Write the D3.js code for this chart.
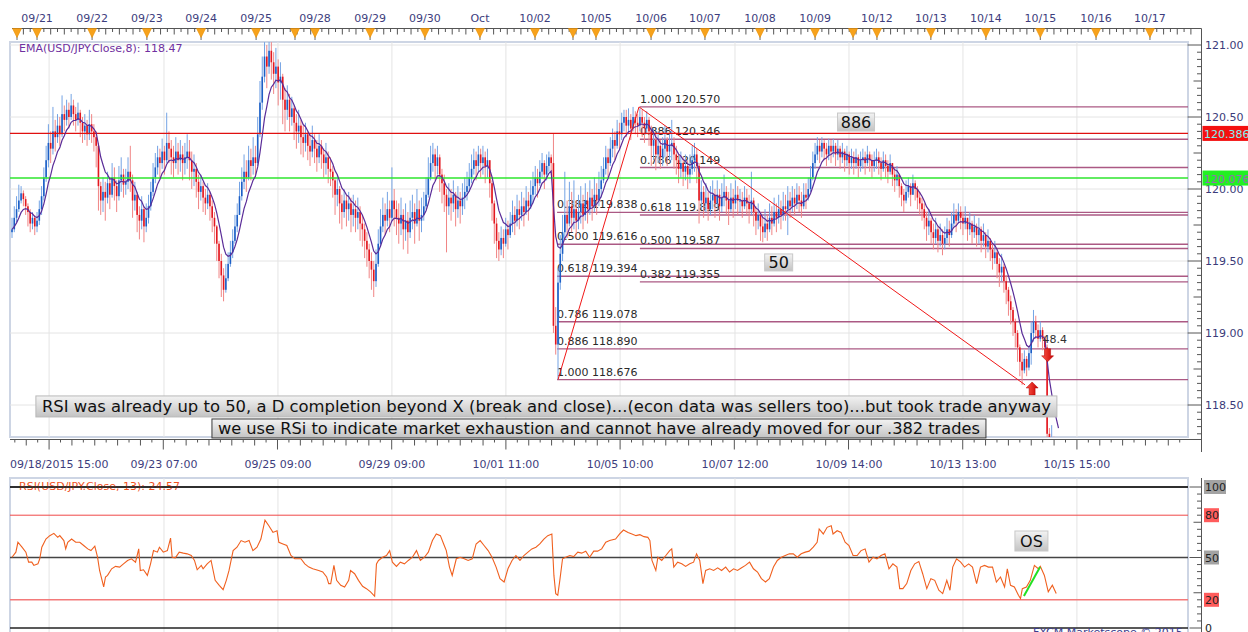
<!DOCTYPE html>
<html>
<head>
<meta charset="utf-8">
<script src="https://cdn.jsdelivr.net/npm/d3@7"></script>
<style>
  html, body { margin: 0; padding: 0; background: #fff; }
  svg { display: block; font-family: "DejaVu Sans", Verdana, sans-serif; }
</style>
</head>
<body>
<svg id="chart" width="1248" height="632"></svg>
<script>
// ---- data (hourly USD/JPY bars) ----
const firstOpen = 119.70;
const closes = [
  119.72,119.80,119.86,119.92,119.97,119.93,119.88,119.84,119.76,119.80,
  119.74,119.78,119.86,119.95,120.08,120.20,120.32,120.28,120.40,120.36,
  120.44,120.38,120.52,120.48,120.55,120.50,120.58,120.52,120.48,120.53,
  120.46,120.40,120.44,120.38,120.45,120.40,120.36,120.30,120.02,119.92,
  119.98,119.94,120.04,119.96,120.08,120.02,119.95,120.06,120.10,120.03,
  120.05,120.12,120.06,119.92,119.96,119.82,119.78,119.86,119.74,119.80,
  119.88,119.98,120.08,120.15,120.22,120.18,120.26,120.20,120.32,120.28,
  120.22,120.18,120.26,120.20,120.24,120.18,120.22,120.26,120.20,120.12,
  120.14,120.05,119.98,120.02,119.94,119.90,119.96,119.88,119.80,119.74,
  119.62,119.50,119.40,119.30,119.38,119.48,119.56,119.64,119.74,119.82,
  119.95,120.05,120.12,120.08,120.20,120.16,120.22,120.18,120.38,120.60,
  120.78,120.92,120.85,120.96,120.88,120.80,120.85,120.74,120.78,120.62,
  120.55,120.62,120.50,120.56,120.46,120.40,120.44,120.36,120.32,120.38,
  120.30,120.26,120.34,120.28,120.22,120.30,120.24,120.18,120.22,120.14,
  120.12,120.06,119.96,120.00,119.90,119.84,119.92,119.86,119.90,119.82,
  119.86,119.80,119.84,119.76,119.72,119.64,119.58,119.50,119.44,119.36,
  119.48,119.62,119.74,119.82,119.78,119.86,119.80,119.92,119.86,119.80,
  119.76,119.82,119.72,119.78,119.70,119.80,119.84,119.76,119.86,119.78,
  119.82,119.88,119.96,120.08,120.18,120.24,120.16,120.22,120.10,120.04,
  119.96,119.88,119.94,119.90,119.96,119.86,119.92,119.88,119.94,119.98,
  120.02,120.08,120.14,120.20,120.16,120.24,120.18,120.22,120.16,120.20,
  120.04,119.90,119.76,119.64,119.58,119.66,119.62,119.72,119.68,119.76,
  119.82,119.78,119.86,119.82,119.88,119.84,119.92,119.88,119.96,120.02,
  120.08,120.04,120.12,120.18,120.10,120.16,120.22,120.18,119.05,118.92,
  119.35,119.55,119.70,119.82,119.76,119.88,119.80,119.86,119.78,119.84,
  119.90,119.82,119.92,119.86,119.94,119.88,119.96,119.92,120.00,120.06,
  120.14,120.22,120.18,120.28,120.34,120.30,120.40,120.38,120.46,120.50,
  120.44,120.48,120.42,120.50,120.46,120.44,120.50,120.46,120.42,120.48,
  120.40,120.30,120.34,120.24,120.30,120.22,120.28,120.34,120.26,120.30,
  120.32,120.24,120.20,120.14,120.18,120.12,120.16,120.10,120.14,120.20,
  120.24,120.16,119.92,119.98,119.90,119.94,119.86,119.92,119.96,119.90,
  119.96,119.88,119.94,119.98,119.92,119.86,119.94,119.90,119.96,119.92,
  119.92,119.88,119.94,119.90,119.86,119.92,119.84,119.78,119.82,119.74,
  119.70,119.76,119.72,119.80,119.76,119.84,119.80,119.86,119.82,119.88,
  119.86,119.92,119.88,119.94,119.90,119.96,119.92,119.88,119.96,119.94,
  120.00,120.08,120.18,120.24,120.30,120.26,120.32,120.28,120.24,120.30,
  120.26,120.30,120.24,120.28,120.22,120.26,120.20,120.24,120.18,120.22,
  120.18,120.22,120.16,120.20,120.22,120.18,120.24,120.20,120.16,120.20,
  120.22,120.18,120.14,120.20,120.16,120.12,120.18,120.10,120.06,120.10,
  120.02,119.96,119.92,119.98,120.02,119.96,120.04,120.00,119.94,119.90,
  119.86,119.80,119.74,119.78,119.70,119.66,119.72,119.64,119.68,119.62,
  119.66,119.72,119.68,119.76,119.82,119.78,119.84,119.80,119.76,119.80,
  119.72,119.76,119.70,119.74,119.68,119.72,119.64,119.68,119.60,119.64,
  119.58,119.52,119.56,119.48,119.42,119.46,119.36,119.30,119.22,119.16,
  119.08,119.00,118.90,118.80,118.74,118.82,118.76,118.86,119.00,119.08,
  119.02,118.96,119.02,118.96,118.90,118.30,118.20,118.24,118.12,118.16,118.10
];
const highs = [
  119.80,119.88,119.95,120.03,120.02,119.99,119.95,119.90,119.86,119.84,
  119.82,119.84,119.92,120.02,120.15,120.30,120.45,120.40,120.57,120.48,
  120.52,120.50,120.65,120.58,120.62,120.60,120.66,120.62,120.57,120.60,
  120.55,120.50,120.52,120.48,120.55,120.52,120.45,120.40,120.32,120.05,
  120.08,120.05,120.12,120.08,120.18,120.15,120.06,120.16,120.22,120.14,
  120.14,120.22,120.30,120.10,120.05,119.98,119.88,119.95,119.88,119.90,
  119.96,120.05,120.18,120.25,120.30,120.28,120.35,120.30,120.53,120.40,
  120.34,120.30,120.36,120.32,120.34,120.30,120.32,120.38,120.34,120.26,
  120.24,120.18,120.10,120.10,120.05,120.00,120.04,119.98,119.92,119.84,
  119.75,119.64,119.55,119.45,119.48,119.56,119.64,119.72,119.82,119.90,
  120.05,120.15,120.24,120.20,120.30,120.28,120.36,120.30,120.50,120.75,
  120.92,121.02,121.00,121.05,121.02,120.95,120.98,120.90,120.88,120.80,
  120.70,120.72,120.66,120.64,120.58,120.52,120.55,120.48,120.44,120.46,
  120.40,120.38,120.44,120.38,120.34,120.38,120.34,120.28,120.32,120.26,
  120.22,120.16,120.08,120.10,120.02,119.96,120.00,119.96,119.98,119.94,
  119.96,119.92,119.94,119.88,119.82,119.76,119.70,119.62,119.56,119.50,
  119.58,119.72,119.86,119.94,119.90,119.98,119.92,120.15,120.00,119.92,
  119.90,119.94,119.86,119.90,119.84,119.92,119.96,119.90,120.00,119.92,
  119.94,119.98,120.08,120.22,120.30,120.32,120.28,120.30,120.24,120.14,
  120.10,120.00,120.04,120.00,120.06,119.98,120.02,119.98,120.04,120.08,
  120.12,120.18,120.24,120.28,120.26,120.30,120.28,120.30,120.26,120.28,
  120.18,120.06,119.92,119.80,119.70,119.74,119.72,119.80,119.78,119.84,
  119.92,119.88,119.96,119.92,119.98,119.94,120.02,119.98,120.06,120.12,
  120.16,120.14,120.20,120.25,120.20,120.24,120.26,120.24,120.386,119.18,
  119.45,119.68,119.82,120.12,119.92,120.05,119.98,120.06,119.92,119.96,
  120.02,119.96,120.04,119.98,120.06,120.00,120.08,120.04,120.12,120.16,
  120.22,120.30,120.28,120.36,120.42,120.40,120.48,120.46,120.53,120.55,
  120.55,120.56,120.52,120.57,120.54,120.52,120.56,120.55,120.50,120.54,
  120.50,120.44,120.42,120.38,120.40,120.34,120.36,120.44,120.36,120.38,
  120.48,120.36,120.30,120.24,120.26,120.22,120.24,120.20,120.24,120.30,
  120.32,120.28,120.18,120.06,120.02,120.04,119.98,120.02,120.06,120.00,
  120.06,120.00,120.04,120.10,120.02,119.98,120.04,120.00,120.06,120.02,
  120.00,119.98,120.02,120.00,119.96,120.12,119.94,119.88,119.90,119.84,
  119.80,119.86,119.82,119.90,119.88,119.94,119.90,119.96,119.92,119.98,
  119.96,120.02,119.98,120.02,120.00,120.04,120.02,119.98,120.04,120.04,
  120.08,120.16,120.26,120.32,120.36,120.34,120.36,120.34,120.32,120.35,
  120.34,120.35,120.32,120.34,120.30,120.32,120.28,120.30,120.26,120.28,
  120.26,120.28,120.24,120.26,120.28,120.26,120.30,120.26,120.24,120.26,
  120.28,120.26,120.22,120.26,120.24,120.20,120.24,120.18,120.14,120.16,
  120.10,120.04,120.00,120.06,120.08,120.04,120.10,120.06,120.02,119.98,
  119.94,119.90,119.84,119.86,119.80,119.76,119.80,119.74,119.76,119.72,
  119.74,119.80,119.78,119.84,119.90,119.86,119.90,119.88,119.84,119.88,
  119.80,119.84,119.78,119.82,119.76,119.80,119.74,119.76,119.70,119.72,
  119.66,119.62,119.64,119.58,119.52,119.55,119.48,119.40,119.32,119.26,
  119.18,119.10,119.02,118.92,118.86,118.88,118.84,118.90,119.08,119.16,
  119.12,119.06,119.08,119.04,118.98,118.92,118.34,118.36,118.28,118.26,118.22
];
const lows = [
  119.66,119.70,119.77,119.84,119.90,119.88,119.82,119.74,119.70,119.72,
  119.68,119.70,119.75,119.82,119.92,120.05,120.15,120.18,120.24,120.26,
  120.32,120.30,120.36,120.40,120.44,120.42,120.48,120.44,120.40,120.44,
  120.36,120.32,120.34,120.30,120.34,120.32,120.26,120.15,119.85,119.82,
  119.84,119.78,119.90,119.86,119.94,119.92,119.84,119.92,119.98,119.94,
  119.96,120.00,119.98,119.80,119.85,119.70,119.65,119.72,119.63,119.70,
  119.76,119.85,119.95,120.04,120.10,120.08,120.14,120.10,120.18,120.18,
  120.10,120.08,120.14,120.10,120.12,120.06,120.10,120.14,120.06,120.00,
  120.02,119.94,119.86,119.92,119.84,119.82,119.86,119.78,119.70,119.62,
  119.50,119.38,119.25,119.22,119.28,119.36,119.46,119.52,119.62,119.70,
  119.82,119.92,120.00,119.98,120.06,120.06,120.10,120.08,120.16,120.36,
  120.55,120.74,120.70,120.80,120.76,120.66,120.70,120.58,120.62,120.45,
  120.40,120.48,120.40,120.44,120.34,120.28,120.32,120.24,120.22,120.26,
  120.20,120.16,120.22,120.18,120.12,120.18,120.14,120.08,120.10,120.04,
  120.02,119.94,119.82,119.88,119.76,119.72,119.80,119.74,119.78,119.70,
  119.74,119.70,119.72,119.64,119.60,119.52,119.46,119.38,119.30,119.25,
  119.32,119.46,119.60,119.70,119.68,119.74,119.70,119.78,119.74,119.68,
  119.62,119.68,119.58,119.64,119.55,119.66,119.72,119.62,119.74,119.64,
  119.70,119.78,119.86,119.94,120.06,120.12,120.06,120.10,119.98,119.90,
  119.84,119.56,119.82,119.78,119.84,119.74,119.80,119.76,119.82,119.86,
  119.92,119.98,120.04,120.10,120.06,120.12,120.08,120.10,120.04,120.08,
  119.94,119.78,119.62,119.52,119.50,119.54,119.52,119.60,119.58,119.66,
  119.70,119.68,119.74,119.72,119.78,119.74,119.82,119.78,119.86,119.90,
  119.96,119.94,120.02,120.08,120.00,120.06,120.12,120.10,119.00,118.85,
  118.676,119.30,119.50,119.66,119.66,119.74,119.70,119.72,119.66,119.72,
  119.76,119.72,119.78,119.76,119.82,119.78,119.84,119.82,119.88,119.94,
  120.04,120.10,120.08,120.16,120.22,120.20,120.28,120.28,120.34,120.40,
  120.36,120.38,120.34,120.40,120.38,120.36,120.40,120.36,120.32,120.38,
  120.30,120.16,120.20,120.13,120.18,120.14,120.16,120.22,120.16,120.20,
  120.20,120.14,120.10,120.04,120.08,120.02,120.06,120.00,120.04,120.10,
  120.12,120.04,119.76,119.86,119.80,119.84,119.78,119.82,119.86,119.80,
  119.86,119.78,119.84,119.88,119.82,119.75,119.84,119.80,119.86,119.82,
  119.84,119.80,119.86,119.82,119.76,119.82,119.74,119.68,119.72,119.64,
  119.63,119.66,119.64,119.70,119.68,119.74,119.70,119.76,119.72,119.78,
  119.78,119.68,119.80,119.84,119.82,119.86,119.84,119.80,119.86,119.86,
  119.92,119.98,120.06,120.14,120.20,120.18,120.22,120.20,120.16,120.20,
  120.18,120.22,120.16,120.20,120.14,120.18,120.12,120.16,120.10,120.14,
  120.10,120.14,120.08,120.12,120.14,120.10,120.16,120.12,120.08,120.12,
  120.14,120.10,120.06,120.12,120.08,120.04,120.10,120.02,119.98,120.02,
  119.94,119.88,119.84,119.90,119.94,119.88,119.96,119.92,119.86,119.82,
  119.78,119.72,119.64,119.68,119.62,119.58,119.62,119.56,119.60,119.54,
  119.58,119.62,119.60,119.66,119.74,119.70,119.76,119.72,119.68,119.72,
  119.64,119.68,119.62,119.66,119.60,119.62,119.56,119.60,119.52,119.56,
  119.50,119.44,119.48,119.38,119.32,119.36,119.28,119.20,119.12,119.06,
  118.98,118.90,118.80,118.70,118.64,118.72,118.70,118.74,118.78,118.94,
  118.96,118.90,118.94,118.88,118.84,118.24,118.10,118.14,118.05,118.08,118.02
];

// RSI(13) readings: [bar index, value]
const rsiReadings = [
  [0,50.2],[1.7,53.8],[2.6,60.8],[4.4,57.3],[6.1,53.8],[7.3,46.7],[8.7,46.7],[9.6,44.4],[11.4,45.5],[12.2,49.1],
  [13.1,57.3],[14.9,63.1],[16.6,65.5],[18.4,67.1],[20.1,64.3],[21,65.5],[22.8,62.0],[23.6,56.1],[24.5,60.8],[26.2,63.1],
  [28,60.8],[29.8,60.8],[31.5,58.5],[33.3,56.1],[34.7,54.9],[36.4,58.0],[37.6,50.2],[38.5,40.8],[39.4,35.0],[40.3,29.1],
  [41.1,36.2],[42,37.3],[43.8,42.0],[45.5,43.7],[47.3,43.2],[49,45.5],[50.8,47.9],[52.5,49.1],[54.3,46.7],[55.7,56.1],
  [56.4,40.8],[57.8,41.3],[59.5,37.3],[60.9,45.5],[62.2,54.9],[63.9,53.8],[64.8,57.3],[66.5,53.8],[68.3,54.9],[69.7,63.8],
  [70.4,50.2],[71.8,49.8],[73.5,53.8],[75.3,53.1],[77,52.6],[78.8,51.4],[80.2,47.9],[81.4,41.3],[83.2,44.4],[84,42.0],
  [85.8,45.5],[87.5,47.9],[89.3,33.8],[91.1,30.3],[92.8,27.2],[94.2,33.8],[95.4,40.8],[96.3,47.9],[97.2,54.9],[98.9,57.3],
  [100.7,62.0],[102.4,60.8],[104.2,62.0],[105.9,54.9],[107.7,57.3],[109.4,63.1],[111.2,76.5],[112.9,72.5],[114.7,67.8],[116.5,69.0],
  [117.3,60.8],[119.1,59.6],[120.8,58.5],[122.6,51.4],[124.3,49.1],[127,49.1],[128.7,45.5],[130.5,43.2],[132.2,42.0],[134.8,40.8],
  [136.6,39.7],[138.3,36.2],[139.2,31.5],[140.1,31.5],[141.5,44.4],[142.7,33.8],[144.5,30.3],[146.2,29.1],[148,33.8],[148.8,40.8],
  [150.6,38.5],[152.3,33.8],[154.1,29.6],[155.8,27.9],[157.6,25.6],[159.4,22.5],[160.2,45.5],[161.1,47.9],[162.9,50.2],[164.6,51.4],
  [166,54.9],[167.2,46.7],[169,43.7],[170.7,46.7],[172.5,45.5],[174.2,47.9],[176,50.2],[177.8,54.9],[179.5,47.9],[181.3,50.2],
  [183,53.8],[184.8,62.0],[186.5,66.7],[188.3,65.5],[190,58.5],[190.9,54.9],[192.3,43.2],[193.5,37.3],[195.3,49.1],[197,50.2],
  [198.8,49.1],[200.5,47.9],[202.3,49.1],[204,59.6],[205.8,62.0],[207.5,58.5],[209.3,54.9],[211,50.2],[212.8,43.2],[214.5,35.0],
  [216.3,32.6],[218,42.0],[219.8,47.9],[221.5,51.4],[223.3,47.9],[225,51.4],[226.8,53.8],[228.5,56.1],[230.3,57.3],[232,59.6],
  [233.8,63.1],[235.5,65.5],[237.3,66.7],[238.2,37.3],[239,24.4],[239.9,23.2],[240.8,33.8],[242,49.1],[243.4,50.2],[245.2,51.4],
  [246.9,50.7],[248.7,53.8],[250.4,53.1],[252.2,54.5],[253.9,50.2],[255.7,54.5],[257.4,54.5],[259.2,56.1],[261,60.8],[262.7,62.0],
  [265.3,63.1],[267.1,66.7],[268.8,69.5],[270.8,67.8],[272.5,66.7],[274.3,65.5],[276,66.2],[277.8,64.8],[279.5,64.3],[280.4,62.0],
  [281.3,47.9],[283,40.8],[283.9,50.2],[285.6,47.9],[287.4,51.4],[289.1,54.9],[290,56.1],[290.9,43.2],[292.6,46.7],[294.4,45.5],
  [296.1,43.7],[297.9,45.5],[299.6,46.7],[300.9,52.6],[302.3,47.9],[303.7,31.5],[304.9,40.8],[306.7,42.0],[308.4,40.8],[310.2,42.7],
  [311.9,40.8],[313.7,43.2],[315.4,39.7],[317.2,42.0],[318.9,40.8],[320.7,42.7],[322.4,44.4],[324.2,46.7],[325.9,42.0],[327.7,39.7],
  [329.4,35.0],[331.2,32.6],[332.9,35.0],[334.7,43.2],[336.4,47.9],[338.2,50.2],[339.9,51.4],[341.7,52.6],[343.4,52.6],[345.2,50.2],
  [346.9,52.6],[348.7,53.8],[350.4,54.5],[352.2,57.3],[353.9,60.8],[354.8,70.2],[356.6,66.7],[358.3,71.4],[360.1,72.5],[360.9,66.7],
  [362.7,69.0],[364.4,67.8],[366.2,60.8],[367.9,58.5],[369.7,51.4],[371.5,51.4],[373.2,54.9],[375,56.1],[376.7,46.7],[378.5,50.2],
  [380.2,49.1],[382,51.4],[383.7,52.6],[385.5,42.0],[387.2,45.5],[389,43.2],[390.2,27.9],[391.6,27.9],[393.3,31.5],[395.1,40.8],
  [396.8,45.5],[398.6,47.2],[400.3,38.5],[402.1,27.9],[403.9,35.0],[405.6,33.8],[407.4,26.8],[409.1,24.4],[410.9,33.8],[412.3,26.8],
  [413.5,43.2],[415.2,49.1],[417,46.7],[418.7,43.2],[420.5,45.5],[422.2,43.2],[424,31.5],[425.7,43.2],[427.5,44.4],[429.2,43.2],
  [431,43.2],[432.7,32.6],[434.5,36.2],[436.3,29.1],[437.5,42.0],[438.9,30.3],[440.6,29.1],[442.4,23.2],[443.3,20.9],[444.1,27.9],
  [445.9,29.1],[447.6,33.8],[449.4,44.4],[451.1,42.0],[452,43.7],[453.8,37.3],[455.5,25.6],[457.3,30.3],[459,24.4]
];
const rsiTrendBars = [444.8, 451.9];
const rsiTrendValues = [22.7, 43.3];
const rsiLevels = [100, 80, 50, 20, 0];

// time axes
const dayLabels = ['09/21','09/22','09/23','09/24','09/25','09/28','09/29','09/30','Oct','10/02',
  '10/05','10/06','10/07','10/08','10/09','10/12','10/13','10/14','10/15','10/16','10/17'];
const dayBars = [11, 35.2, 59.3, 83.1, 107.3, 133.2, 157.4, 181.5, 205.7, 229.9,
  256.7, 280.9, 304.6, 328.8, 353, 380.2, 403.9, 428.1, 452, 476.5, 500.2];
const weekOpenBars = [2.2, 124.4, 246.6, 369.7];
const gridBars = [16.3, 66.8, 116.9, 167, 217.1, 267.3, 317.8, 367.9, 418, 468.1];
const firstTimeLabel = '09/18/2015 15:00';
const timeLabels = ['', '09/23 07:00','09/25 09:00','09/29 09:00','10/01 11:00','10/05 10:00',
  '10/07 12:00','10/09 14:00','10/13 13:00','10/15 15:00'];

// levels and drawings
const priceTicks = [118.5, 119, 119.5, 120, 120.5, 121];
const redLevel = 120.386, greenLevel = 120.076;
const fibARatios = ['0.382','0.500','0.618','0.786','0.886','1.000'];
const fibAPrices = [119.838, 119.616, 119.394, 119.078, 118.890, 118.676];
const fibAStart = 239.6;
const fibBRatios = ['1.000','0.886','0.786','0.618','0.500','0.382'];
const fibBPrices = [120.570, 120.346, 120.149, 119.819, 119.587, 119.355];
const fibBStart = 276;
const patternBars = [240, 275.6, 445.3];
const patternPrices = [118.676, 120.570, 118.64];
const emaPeriod = 8;

const smallNotes = [
  { text: '886', bar: 371, price: 120.465, w: 37, h: 18 },
  { text: '50', bar: 337, price: 119.49, w: 28, h: 17 }
];
const longNotes = [
  { text: 'RSI was already up to 50, a D completion beyond X (break and close)...(econ data was sellers too)...but took trade anyway',
    bar: 234.9, price: 118.49, w: 1021, h: 21, stroke: '#b8b8b8' },
  { text: 'we use RSi to indicate market exhaustion and cannot have already moved for our .382 trades',
    bar: 258, price: 118.337, w: 774, h: 19, stroke: '#3a3a3a' }
];
const rsiNote = { text: 'OS', bar: 448.1, rsi: 61.7, w: 33, h: 20 };

// ---- layout ----
const plot = { left: 10, right: 1188, top: 42, bottom: 437 };
const rsiBox = { top: 478, bottom: 640 };
const axisX = 1201.5;

const x = d3.scaleLinear().domain([0, 517]).range([12, 12 + 517 * 2.275]);
const y = d3.scaleLinear().domain([118.5, 121]).range([405, 45]);
const yR = d3.scaleLinear().domain([0, 100]).range([628, 487]);

const svg = d3.select('#chart');
const defs = svg.append('defs');

defs.append('clipPath').attr('id', 'plotClip').append('rect')
  .attr('x', plot.left).attr('y', plot.top)
  .attr('width', plot.right - plot.left).attr('height', plot.bottom - plot.top);
defs.append('clipPath').attr('id', 'rsiClip').append('rect')
  .attr('x', plot.left).attr('y', rsiBox.top)
  .attr('width', plot.right - plot.left).attr('height', rsiBox.bottom - rsiBox.top);

const boxGrad = defs.append('linearGradient').attr('id', 'boxGrad')
  .attr('x1', 0).attr('y1', 0).attr('x2', 0).attr('y2', 1);
boxGrad.append('stop').attr('offset', '0%').attr('stop-color', '#f3f3f3');
boxGrad.append('stop').attr('offset', '100%').attr('stop-color', '#c3c3c3');

const arrowGrad = defs.append('linearGradient').attr('id', 'arrowGrad')
  .attr('x1', 0).attr('y1', 0).attr('x2', 1).attr('y2', 0);
arrowGrad.append('stop').attr('offset', '0%').attr('stop-color', '#ff5a4a');
arrowGrad.append('stop').attr('offset', '100%').attr('stop-color', '#c80000');

// ---- top date axis ----
const topY = 28.5;
svg.append('line').attr('x1', 12).attr('x2', axisX).attr('y1', topY).attr('y2', topY)
  .attr('stroke', '#555');
svg.append('line').attr('x1', axisX).attr('x2', axisX).attr('y1', topY).attr('y2', 40)
  .attr('stroke', '#555');

const topTicks = [];
for (let k = 1; dayBars[0] - 3 * k >= 0; k++) topTicks.push({ b: dayBars[0] - 3 * k, k });
dayBars.forEach((d, j) => {
  const next = j < dayBars.length - 1 ? dayBars[j + 1] : 520;
  for (let k = 1; d + 3 * k < next - 1.5; k++) topTicks.push({ b: d + 3 * k, k });
});
svg.append('g').selectAll('line').data(topTicks.filter(t => x(t.b) < axisX - 1)).join('line')
  .attr('x1', d => x(d.b)).attr('x2', d => x(d.b))
  .attr('y1', topY).attr('y2', d => topY + (d.k % 2 ? 3.5 : 6))
  .attr('stroke', '#555').attr('stroke-width', 1);

const triBars = dayBars.concat(weekOpenBars);
const tri = svg.append('g');
tri.selectAll('line').data(triBars).join('line')
  .attr('x1', d => x(d)).attr('x2', d => x(d)).attr('y1', topY).attr('y2', 40)
  .attr('stroke', '#666');
tri.selectAll('path').data(triBars).join('path')
  .attr('d', d => `M${x(d) - 4.5},${topY} L${x(d) + 4.5},${topY} L${x(d)},${topY + 9} Z`)
  .attr('fill', '#f7a21b').attr('stroke', '#e98f00').attr('stroke-width', 0.6);

svg.append('g').selectAll('text').data(dayLabels).join('text')
  .attr('x', (d, i) => x(dayBars[i])).attr('y', 22)
  .attr('text-anchor', 'middle').attr('font-size', 11).attr('fill', '#3d3d7d')
  .text(d => d);

// ---- main plot frame & grid ----
svg.append('rect').attr('x', plot.left).attr('y', plot.top)
  .attr('width', plot.right - plot.left).attr('height', plot.bottom - plot.top)
  .attr('fill', '#fff').attr('stroke', '#cdd5e4').attr('stroke-width', 2);

const grid = svg.append('g');
grid.selectAll('line.v').data(gridBars).join('line').attr('class', 'v')
  .attr('x1', d => x(d)).attr('x2', d => x(d)).attr('y1', plot.top).attr('y2', plot.bottom)
  .attr('stroke', '#e4e4e4');
grid.selectAll('line.h').data(priceTicks).join('line').attr('class', 'h')
  .attr('x1', plot.left).attr('x2', plot.right).attr('y1', d => y(d)).attr('y2', d => y(d))
  .attr('stroke', '#e4e4e4');

const inner = svg.append('g').attr('clip-path', 'url(#plotClip)');

// fib levels
function fibSet(prices, ratios, start) {
  const g = inner.append('g');
  g.selectAll('line').data(prices).join('line')
    .attr('x1', x(start)).attr('x2', plot.right)
    .attr('y1', d => y(d)).attr('y2', d => y(d))
    .attr('stroke', '#a24777').attr('stroke-width', 1.4).attr('stroke-opacity', 0.9);
  g.selectAll('text').data(prices).join('text')
    .attr('x', x(start)).attr('y', d => y(d) - 4)
    .attr('font-size', 11).attr('fill', '#2a2a2a')
    .text((d, i) => `${ratios[i]} ${d.toFixed(3)}`);
}
fibSet(fibAPrices, fibARatios, fibAStart);
fibSet(fibBPrices, fibBRatios, fibBStart);

// candles
const bars = closes.map((c, i) => {
  const o = i ? closes[i - 1] : firstOpen;
  return { i, o, c, h: Math.max(highs[i], o, c), l: Math.min(lows[i], o, c), up: c >= o };
});
const cg = inner.append('g');
cg.selectAll('line').data(bars).join('line')
  .attr('x1', d => x(d.i)).attr('x2', d => x(d.i))
  .attr('y1', d => y(d.h)).attr('y2', d => y(d.l))
  .attr('stroke', d => d.up ? '#74a3e4' : '#f08585').attr('stroke-width', 1);
cg.selectAll('rect').data(bars).join('rect')
  .attr('x', d => x(d.i) - 0.8).attr('width', 1.6)
  .attr('y', d => y(Math.max(d.o, d.c)))
  .attr('height', d => Math.max(1, Math.abs(y(d.o) - y(d.c))))
  .attr('fill', d => d.up ? '#1c5fc6' : '#e3171f');

// horizontal key levels
inner.append('line').attr('x1', plot.left).attr('x2', plot.right)
  .attr('y1', y(redLevel)).attr('y2', y(redLevel))
  .attr('stroke', '#e01010').attr('stroke-width', 1.2);
inner.append('line').attr('x1', plot.left).attr('x2', plot.right)
  .attr('y1', y(greenLevel)).attr('y2', y(greenLevel))
  .attr('stroke', '#2ee62e').attr('stroke-width', 1.6);

// EMA(8)
const k = 2 / (emaPeriod + 1);
const ema = [];
closes.forEach((c, i) => ema.push(i ? ema[i - 1] + k * (c - ema[i - 1]) : c));
inner.append('path').datum(ema)
  .attr('d', d3.line().x((d, i) => x(i)).y(d => y(d)))
  .attr('fill', 'none').attr('stroke', '#5a2c98').attr('stroke-width', 1.2);

// XAB pattern lines
inner.append('path').datum(d3.zip(patternBars, patternPrices))
  .attr('d', d3.line().x(d => x(d[0])).y(d => y(d[1])))
  .attr('fill', 'none').attr('stroke', '#f01818').attr('stroke-width', 1);

// arrows
function arrow(bar, price, dir) {
  const ax = x(bar), ay = y(price);
  const s = dir === 'up' ? 1 : -1;
  const p = [[0, 0], [6, 6], [3, 6], [3, 13], [-3, 13], [-3, 6], [-6, 6]]
    .map(q => `${ax + q[0]},${ay + s * q[1]}`).join(' ');
  inner.append('polygon').attr('points', p)
    .attr('fill', 'url(#arrowGrad)').attr('stroke', '#b00000').attr('stroke-width', 0.5);
}
arrow(448.4, 118.66, 'up');
arrow(455.2, 118.80, 'down');

inner.append('text').attr('x', x(453)).attr('y', y(118.93))
  .attr('font-size', 11).attr('fill', '#333').text('48.4');

// ---- right price axis ----
const ax = svg.append('g');
ax.append('line').attr('x1', axisX).attr('x2', axisX).attr('y1', 40).attr('y2', 452)
  .attr('stroke', '#555');
const minorP = d3.range(11830, 12101, 5).map(v => v / 100);
ax.selectAll('line.t').data(minorP).join('line').attr('class', 't')
  .attr('x1', d => {
    const c = Math.round(d * 100);
    return axisX - (c % 50 === 0 ? 14 : c % 25 === 0 ? 8 : 4.5);
  })
  .attr('x2', axisX).attr('y1', d => y(d)).attr('y2', d => y(d))
  .attr('stroke', '#555');
ax.selectAll('text').data(priceTicks).join('text')
  .attr('x', 1205).attr('y', d => y(d) + 4)
  .attr('font-size', 11).attr('fill', '#3b3b7a')
  .text(d => d.toFixed(2));

function priceFlag(p, bg, fg) {
  ax.append('rect').attr('x', axisX + 1).attr('y', y(p) - 7.5).attr('width', 48).attr('height', 15)
    .attr('fill', bg);
  ax.append('text').attr('x', 1204).attr('y', y(p) + 4.5)
    .attr('font-size', 11).attr('fill', fg).text(p.toFixed(3));
}
priceFlag(redLevel, '#f41010', '#7ff3f3');
priceFlag(greenLevel, '#22f022', '#9a6ab8');

// ---- bottom time axis ----
const botY = 439.5;
svg.append('line').attr('x1', plot.left).attr('x2', axisX).attr('y1', botY).attr('y2', botY)
  .attr('stroke', '#555');
svg.append('line').attr('x1', axisX).attr('x2', axisX).attr('y1', botY).attr('y2', 452)
  .attr('stroke', '#555');
const gStep = (gridBars[gridBars.length - 1] - gridBars[0]) / (gridBars.length - 1) / 10;
const botTicks = [];
for (let j = -3; gridBars[0] + j * gStep <= 515; j++) {
  if (gridBars[0] + j * gStep >= 0) botTicks.push({ b: gridBars[0] + j * gStep, j: (j % 10 + 10) % 10 });
}
svg.append('g').selectAll('line').data(botTicks).join('line')
  .attr('x1', d => x(d.b)).attr('x2', d => x(d.b))
  .attr('y1', botY).attr('y2', d => botY + (d.j === 0 ? 10 : d.j % 2 === 0 ? 6 : 3))
  .attr('stroke', '#555');
svg.append('text').attr('x', 10).attr('y', 468).attr('font-size', 11).attr('fill', '#3d3d7d')
  .text(firstTimeLabel);
svg.append('g').selectAll('text').data(timeLabels).join('text')
  .attr('x', (d, i) => x(gridBars[i])).attr('y', 468)
  .attr('text-anchor', 'middle').attr('font-size', 11).attr('fill', '#3d3d7d')
  .text(d => d);

// ---- labels & notes in main panel ----
svg.append('text').attr('x', 19).attr('y', 52).attr('font-size', 11).attr('fill', '#7030a0')
  .text('EMA(USD/JPY.Close,8): 118.47');

function noteBox(cx, cy, w, h, text, size, stroke, fit) {
  const g = svg.append('g');
  g.append('rect').attr('x', cx - w / 2).attr('y', cy - h / 2).attr('width', w).attr('height', h)
    .attr('fill', 'url(#boxGrad)').attr('stroke', stroke).attr('stroke-width', 1);
  const t = g.append('text').attr('x', cx).attr('y', cy + size * 0.36)
    .attr('text-anchor', 'middle').attr('font-size', size).attr('fill', '#111').text(text);
  if (fit) {
    t.attr('font-family', '"Liberation Sans Narrow", "DejaVu Sans Condensed", "Liberation Sans", sans-serif')
      .attr('textLength', w - 12).attr('lengthAdjust', 'spacingAndGlyphs');
  }
}
smallNotes.forEach(n => noteBox(x(n.bar), y(n.price), n.w, n.h, n.text, 16, '#c8c8c8', false));
longNotes.forEach(n => noteBox(x(n.bar), y(n.price), n.w, n.h, n.text, 16, n.stroke, true));

// ---- RSI panel ----
svg.append('rect').attr('x', plot.left).attr('y', rsiBox.top)
  .attr('width', plot.right - plot.left).attr('height', rsiBox.bottom - rsiBox.top)
  .attr('fill', '#fff').attr('stroke', '#cdd5e4').attr('stroke-width', 2);
const rg = svg.append('g').attr('clip-path', 'url(#rsiClip)');
rg.selectAll('line.v').data(gridBars).join('line').attr('class', 'v')
  .attr('x1', d => x(d)).attr('x2', d => x(d)).attr('y1', rsiBox.top).attr('y2', rsiBox.bottom)
  .attr('stroke', '#e4e4e4');
const levelStyle = {
  100: ['#222', 1.3], 80: ['#f04848', 1], 50: ['#444', 1.6], 20: ['#f37a7a', 1.6], 0: ['#222', 1.3]
};
rg.selectAll('line.lv').data(rsiLevels).join('line').attr('class', 'lv')
  .attr('x1', plot.left).attr('x2', plot.right)
  .attr('y1', d => yR(d)).attr('y2', d => yR(d))
  .attr('stroke', d => levelStyle[d][0]).attr('stroke-width', d => levelStyle[d][1]);

svg.append('text').attr('x', 19).attr('y', 490).attr('font-size', 11).attr('fill', '#f0521e')
  .text('RSI(USD/JPY.Close, 13): 24.57');
svg.append('line').attr('x1', plot.left).attr('x2', plot.right)
  .attr('y1', yR(100)).attr('y2', yR(100)).attr('stroke', '#222').attr('stroke-width', 1.3);

rg.append('path').datum(rsiReadings)
  .attr('d', d3.line().x(d => x(d[0])).y(d => yR(d[1])))
  .attr('fill', 'none').attr('stroke', '#f0601f').attr('stroke-width', 1.1);
rg.append('path').datum(d3.zip(rsiTrendBars, rsiTrendValues))
  .attr('d', d3.line().x(d => x(d[0])).y(d => yR(d[1])))
  .attr('fill', 'none').attr('stroke', '#22e022').attr('stroke-width', 2);

noteBox(x(rsiNote.bar), yR(rsiNote.rsi), rsiNote.w, rsiNote.h, rsiNote.text, 16, '#c8c8c8', false);

// RSI axis
const ra = svg.append('g');
ra.append('line').attr('x1', axisX).attr('x2', axisX).attr('y1', rsiBox.top).attr('y2', 632)
  .attr('stroke', '#555');
ra.selectAll('line.t').data(d3.range(0, 101, 5)).join('line').attr('class', 't')
  .attr('x1', d => axisX - (d % 50 === 0 ? 12 : d % 25 === 0 ? 8 : 4.5)).attr('x2', axisX)
  .attr('y1', d => yR(d)).attr('y2', d => yR(d)).attr('stroke', '#555');
const rsiFlag = { 100: '#a3a3a3', 80: '#ff5c5c', 50: '#a3a3a3', 20: '#ff5c5c', 0: 'none' };
ra.selectAll('rect').data(rsiLevels).join('rect')
  .attr('x', 1204).attr('y', d => yR(d) - 7)
  .attr('width', d => d === 100 ? 22 : 15).attr('height', 14)
  .attr('fill', d => rsiFlag[d]);
ra.selectAll('text').data(rsiLevels).join('text')
  .attr('x', 1205).attr('y', d => yR(d) + 4)
  .attr('font-size', 11).attr('fill', '#222').text(d => d);

svg.append('text').attr('x', 1033).attr('y', 636).attr('font-size', 11).attr('fill', '#3c3c8c')
  .text('FXCM Marketscope \u00a9 2015');
</script>
</body>
</html>
